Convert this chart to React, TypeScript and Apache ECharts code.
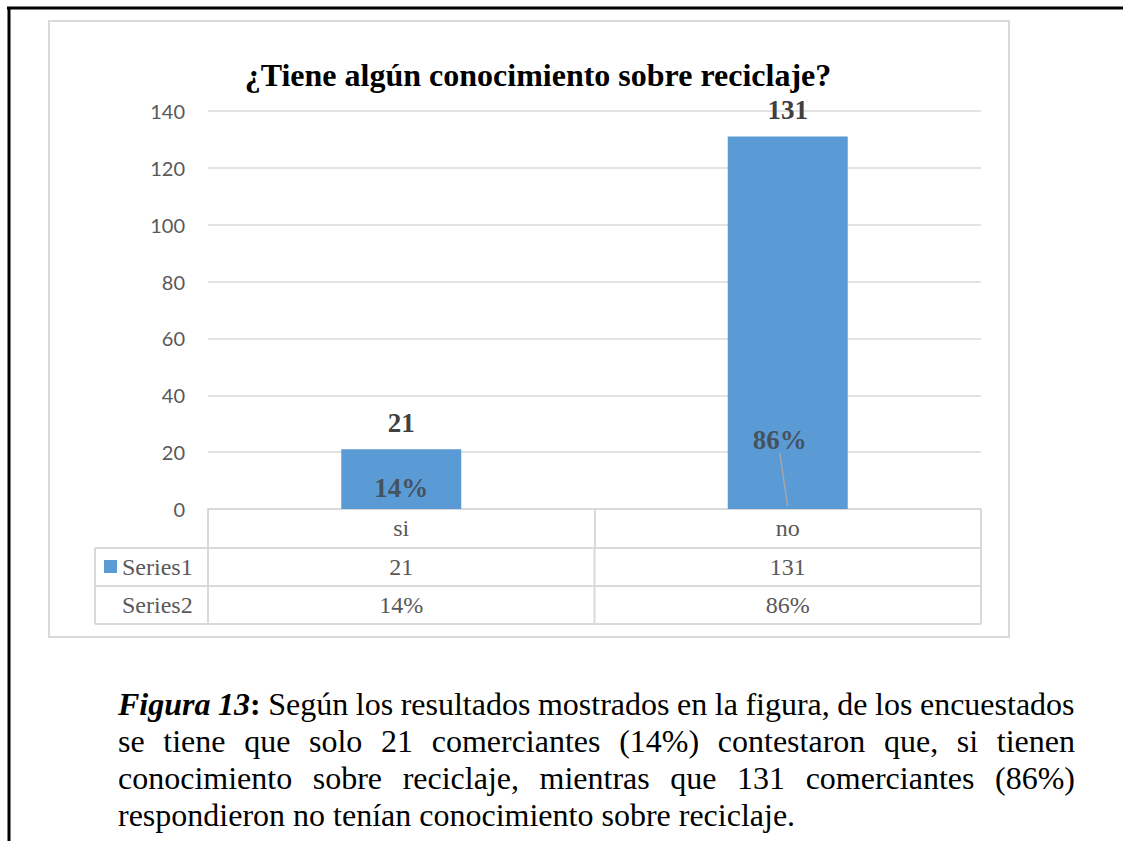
import React, { useEffect, useRef } from "react";
import * as echarts from "echarts";

// ---- data ----
const categories = ["si", "no"];
const series1Name = "Series1";
const series2Name = "Series2";
const counts = [21, 131];
const shares = [0.14, 0.86];
const yMin = 0;
const yMax = 140;
const yInterval = 20;
const titleText = "¿Tiene algún conocimiento sobre reciclaje?";
const captionLabel = "Figura 13";
const captionColon = ":";
const captionLines = [
  "Según los resultados mostrados en la figura, de los encuestados",
  "se tiene que solo 21 comerciantes (14%) contestaron que, si tienen",
  "conocimiento sobre reciclaje, mientras que 131 comerciantes (86%)",
  "respondieron no tenían conocimiento sobre reciclaje.",
];

// ---- styles / layout ----
const BAR_COLOR = "#5B9BD5";
const GRID_COLOR = "#D9D9D9";
const TEXT_GRAY = "#595959";
const LABEL_DARK = "#404040";
const SERIF = '"Liberation Serif", "Times New Roman", serif';
const SANS = 'Lato, "Open Sans", sans-serif';
const CAPTION_SIZE = 32;
const CAPTION_WIDTH = 957;
const share2Offsets = [
  { dx: 0, dy: -21 },
  { dx: -8, dy: -67 },
];
const pct = (v: number) => Math.round(v * 100) + "%";

let measureCtx: CanvasRenderingContext2D | null = null;
function textWidth(t: string, font: string): number {
  if (!measureCtx) measureCtx = document.createElement("canvas").getContext("2d");
  if (!measureCtx) return t.length * CAPTION_SIZE * 0.45;
  measureCtx.font = font;
  return measureCtx.measureText(t).width;
}

function captionSpacing(i: number): number {
  const fam = '"Liberation Serif"';
  const reg = `${CAPTION_SIZE}px ${fam}`;
  let natural = 0;
  let full = captionLines[i];
  if (i === 0) {
    natural += textWidth(captionLabel, `italic bold ${CAPTION_SIZE}px ${fam}`);
    natural += textWidth(captionColon, `bold ${CAPTION_SIZE}px ${fam}`);
    natural += textWidth(" " + captionLines[i], reg);
    full = " " + full;
  } else {
    natural += textWidth(captionLines[i], reg);
  }
  const spaces = (full.match(/ /g) || []).length;
  if (!spaces) return 0;
  return (CAPTION_WIDTH - natural) / spaces;
}

export default function App() {
  const ref = useRef<HTMLDivElement>(null);

  useEffect(() => {
    const chart = echarts.init(ref.current!, null, { renderer: "svg" });
    const gridTop = 111;
    const gridBottomY = 509;
    chart.setOption({
      animation: false,
      backgroundColor: "#ffffff",
      grid: { left: 208, right: 142, top: gridTop, bottom: 841 - gridBottomY },
      xAxis: {
        type: "category",
        data: categories,
        axisLine: { show: true, lineStyle: { color: GRID_COLOR, width: 2 } },
        axisTick: { show: true, length: 39, lineStyle: { color: GRID_COLOR, width: 2 } },
        axisLabel: {
          fontFamily: SERIF,
          fontSize: 24,
          color: TEXT_GRAY,
          margin: 7,
        },
      },
      yAxis: {
        type: "value",
        min: yMin,
        max: yMax,
        interval: yInterval,
        axisLine: { show: false },
        axisTick: { show: false },
        splitLine: { lineStyle: { color: GRID_COLOR, width: 1.5 } },
        axisLabel: { fontFamily: SANS, fontSize: 20, color: TEXT_GRAY, margin: 23 },
      },
      series: [
        {
          type: "bar",
          name: series1Name,
          data: counts,
          barWidth: 120,
          itemStyle: { color: BAR_COLOR },
          label: {
            show: true,
            position: "top",
            distance: 13,
            fontFamily: SERIF,
            fontWeight: "bold",
            fontSize: 27,
            color: LABEL_DARK,
          },
        },
        {
          type: "scatter",
          name: series2Name,
          data: shares.map((v, i) => ({
            value: v,
            labelLine: { show: i === 1 },
          })),
          symbolSize: 1,
          itemStyle: { color: "transparent" },
          label: {
            show: true,
            position: "inside",
            formatter: (p: any) => pct(p.value),
            fontFamily: SERIF,
            fontWeight: "bold",
            fontSize: 27,
            color: LABEL_DARK,
          },
          labelLayout: (p: any) => share2Offsets[p.dataIndex],
          labelLine: { show: true, lineStyle: { color: "#A6A6A6", width: 1.5 } },
        },
      ],
    });

    // table built from axis positions
    const xs = categories.map((_, i) => chart.convertToPixel({ xAxisIndex: 0 }, i) as number);
    const band = xs.length > 1 ? xs[1] - xs[0] : 386;
    const colBounds = [xs[0] - band / 2, ...xs.map((x) => x + band / 2)];
    const tableLeft = 95;
    const rowTops = [gridBottomY, 548, 586, 624];
    const line = (x1: number, y1: number, x2: number, y2: number, stroke = GRID_COLOR, w = 2) => ({
      type: "line",
      shape: { x1, y1, x2, y2 },
      style: { stroke, lineWidth: w },
      silent: true,
    });
    const text = (t: string, x: number, y: number, opts: any = {}) => ({
      type: "text",
      x,
      y,
      style: {
        text: t,
        fontFamily: SERIF,
        fontSize: 24,
        fill: TEXT_GRAY,
        align: "center",
        verticalAlign: "middle",
        textAlign: "center",
        textVerticalAlign: "middle",
        ...opts,
      },
      silent: true,
    });
    const right = colBounds[colBounds.length - 1];
    const elements: any[] = [
      // page borders
      line(7, 8, 1123, 8, "#000000", 3),
      line(9, 7, 9, 841, "#000000", 3),
      // chart area border
      {
        type: "rect",
        shape: { x: 49, y: 21, width: 960, height: 616 },
        style: { fill: "none", stroke: GRID_COLOR, lineWidth: 2 },
        silent: true,
        z: -1,
      },
      // title
      text(titleText, 538, 75, {
        fontSize: 32,
        fontWeight: "bold",
        fill: "#000000",
      }),
      // table horizontal lines
      line(tableLeft, rowTops[1], right, rowTops[1]),
      line(tableLeft, rowTops[2], right, rowTops[2]),
      line(tableLeft, rowTops[3], right, rowTops[3]),
      // table vertical lines
      line(tableLeft, rowTops[1], tableLeft, rowTops[3]),
      ...colBounds.map((x) => line(x, rowTops[1], x, rowTops[3])),
      // legend key
      {
        type: "rect",
        shape: { x: 104, y: 560, width: 13, height: 13 },
        style: { fill: BAR_COLOR },
        silent: true,
      },
      text(series1Name, 122, (rowTops[1] + rowTops[2]) / 2, { align: "left", textAlign: "left" }),
      text(series2Name, 122, (rowTops[2] + rowTops[3]) / 2, { align: "left", textAlign: "left" }),
      ...counts.map((v, i) => text(String(v), xs[i], (rowTops[1] + rowTops[2]) / 2)),
      ...shares.map((v, i) => text(pct(v), xs[i], (rowTops[2] + rowTops[3]) / 2)),
    ];
    chart.setOption({ graphic: { elements } });

    return () => chart.dispose();
  }, []);

  return (
    <div style={{ position: "absolute", left: 0, top: 0, width: 1123, height: 841, background: "#fff", overflow: "hidden" }}>
      <div ref={ref} style={{ position: "absolute", left: 0, top: 0, width: 1123, height: 841 }} />
      <div
        style={{
          position: "absolute",
          left: 118,
          top: 686,
          width: CAPTION_WIDTH + 20,
          fontFamily: SERIF,
          fontSize: CAPTION_SIZE,
          lineHeight: "37px",
          color: "#000",
        }}
      >
        {captionLines.map((l, i) => {
          const justify = i < captionLines.length - 1;
          return (
            <div
              key={i}
              style={{
                whiteSpace: "nowrap",
                textAlign: "left",
                wordSpacing: justify ? `${captionSpacing(i)}px` : "normal",
              }}
            >
              {i === 0 ? (
                <>
                  <b>
                    <i>{captionLabel}</i>
                    {captionColon}
                  </b>{" "}
                </>
              ) : null}
              {l}
            </div>
          );
        })}
      </div>
    </div>
  );
}
